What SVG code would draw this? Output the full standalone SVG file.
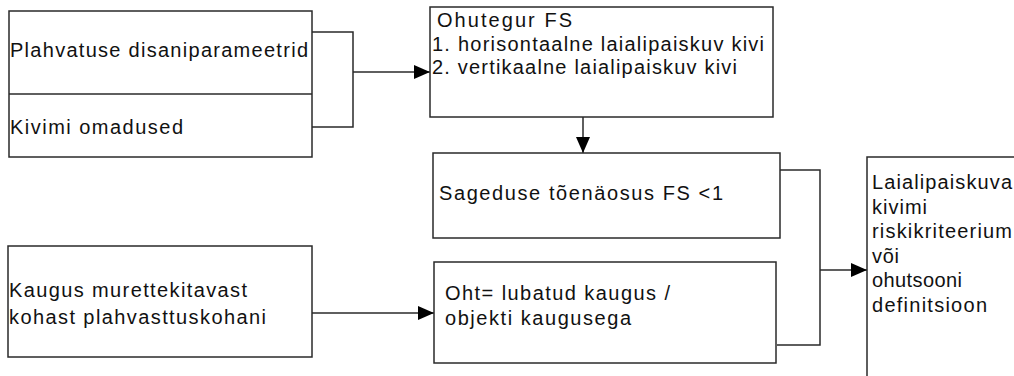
<svg xmlns="http://www.w3.org/2000/svg" width="1014" height="376" viewBox="0 0 1014 376">
<style>
.box{fill:#fff;stroke:#2a2a2a;stroke-width:1.5}
.ln{fill:none;stroke:#2a2a2a;stroke-width:1.5}
text{font-family:"Liberation Sans",Arial,sans-serif;font-size:20px;fill:#111}
</style>
<defs>
<marker id="ah" markerWidth="16" markerHeight="14" refX="16" refY="7" orient="auto" markerUnits="userSpaceOnUse">
<path d="M0,0 L16,7 L0,14 Z" fill="#000"/>
</marker>
</defs>
<rect width="1014" height="376" fill="#fff"/>
<g id="connectors">
<path class="ln" d="M312,32 H353 V127 H312"/>
<path class="ln" d="M353,72 H430" marker-end="url(#ah)"/>
<path class="ln" d="M583,117 V153" marker-end="url(#ah)"/>
<path class="ln" d="M780,170 H820 V345 H777"/>
<path class="ln" d="M820,270 H867" marker-end="url(#ah)"/>
<path class="ln" d="M312,313 H434" marker-end="url(#ah)"/>
</g>
<g id="inputs">
<rect class="box" x="9" y="11" width="303" height="146"/>
<line class="ln" x1="9" y1="94" x2="312" y2="94"/>
<text x="10" y="57" textLength="298" lengthAdjust="spacing">Plahvatuse disaniparameetrid</text>
<text x="10" y="134" textLength="173" lengthAdjust="spacing">Kivimi omadused</text>
</g>
<g id="ohutegur">
<rect class="box" x="430" y="7" width="343" height="110"/>
<text x="437" y="27" textLength="135" lengthAdjust="spacing">Ohutegur FS</text>
<text x="432" y="51" textLength="332" lengthAdjust="spacing">1. horisontaalne laialipaiskuv kivi</text>
<text x="432" y="74" textLength="305" lengthAdjust="spacing">2. vertikaalne laialipaiskuv kivi</text>
</g>
<g id="sagedus">
<rect class="box" x="433" y="153" width="347" height="85"/>
<text x="439" y="200" textLength="284" lengthAdjust="spacing">Sageduse tõenäosus FS &lt;1</text>
</g>
<g id="kaugus">
<rect class="box" x="8" y="246" width="304" height="111"/>
<text x="9" y="297" textLength="238" lengthAdjust="spacing">Kaugus murettekitavast</text>
<text x="9" y="324" textLength="257" lengthAdjust="spacing">kohast plahvasttuskohani</text>
</g>
<g id="oht">
<rect class="box" x="434" y="262" width="342" height="101"/>
<text x="445" y="300" textLength="225" lengthAdjust="spacing">Oht= lubatud kaugus /</text>
<text x="445" y="325" textLength="186" lengthAdjust="spacing">objekti kaugusega</text>
</g>
<g id="kriteerium">
<rect class="box" x="867" y="157" width="170" height="240"/>
<text x="872" y="189" textLength="140" lengthAdjust="spacing">Laialipaiskuva</text>
<text x="872" y="213.5" textLength="55" lengthAdjust="spacing">kivimi</text>
<text x="872" y="238" textLength="140" lengthAdjust="spacing">riskikriteerium</text>
<text x="872" y="262.5" textLength="27" lengthAdjust="spacing">või</text>
<text x="872" y="287" textLength="90" lengthAdjust="spacing">ohutsooni</text>
<text x="872" y="311.5" textLength="115" lengthAdjust="spacing">definitsioon</text>
</g>
</svg>
